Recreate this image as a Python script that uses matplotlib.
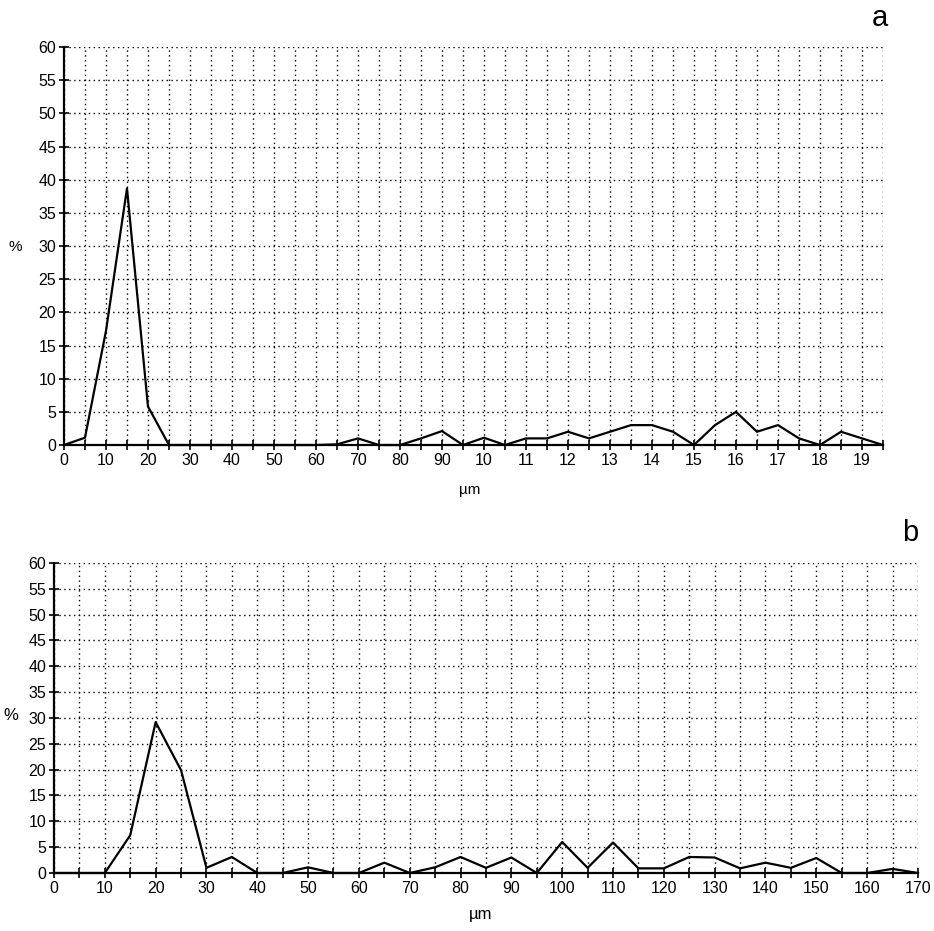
import numpy as np
import matplotlib
matplotlib.use("Agg")
import matplotlib.pyplot as plt

plt.rcParams['font.family'] = ['Liberation Sans', 'DejaVu Sans']

# panel a: size classes (um) and percentages
size_a = list(range(0, 200, 5))
pct_a = [0, 1.1, 17.2, 38.7, 5.8, 0, 0, 0, 0, 0, 0, 0, 0, 0.1,
         1, 0, 0, 1, 2.1, 0, 1.1, 0, 1, 1, 2, 1, 2, 3, 3, 2,
         0, 3, 5, 2, 3, 1, 0, 2, 1, 0]
xlabels_a = ["0", "10", "20", "30", "40", "50", "60", "70", "80", "90",
             "10", "11", "12", "13", "14", "15", "16", "17", "18", "19"]

# panel b
size_b = list(range(0, 175, 5))
pct_b = [0, 0, 0, 7.3, 29.2, 19.9, 1, 3.1, 0, 0, 1.1, 0, 0, 2, 0, 1.1,
         3.1, 1, 3, 0, 6, 1, 5.9, 0.9, 0.9, 3.1, 3, 0.9, 2, 1, 2.9,
         0, 0, 0.8, 0]
xlabels_b = [str(v) for v in range(0, 175, 10)]

yticks = list(range(0, 65, 5))

fig = plt.figure(figsize=(9.34, 9.31), dpi=100)
ax_a = fig.add_axes([0.0685, 0.522, 0.8769, 0.4275])
ax_b = fig.add_axes([0.0578, 0.0623, 0.925, 0.333])


def style(ax, xmax, labels):
    ax.set_xlim(0, xmax)
    ax.set_ylim(0, 60)
    ax.set_xticks(np.arange(0, xmax + 1, 10))
    ax.set_xticks(np.arange(0, xmax + 1, 5), minor=True)
    ax.set_xticklabels(labels, fontsize=11.5)
    ax.set_yticks(yticks)
    ax.set_yticklabels([str(v) for v in yticks], fontsize=11.5)
    ax.tick_params(axis="both", which="both", direction="inout",
                   length=7, width=1.2, pad=2)
    ax.grid(True, which="both", linestyle=(0, (1, 2.5)), color="black",
            linewidth=1.0)
    for s in ["top", "right"]:
        ax.spines[s].set_visible(False)
    for s in ["left", "bottom"]:
        ax.spines[s].set_linewidth(1.6)
    ax.set_axisbelow(True)


ax_a.plot(size_a, pct_a, color="black", lw=1.6, clip_on=False)
style(ax_a, 195, xlabels_a)
ax_b.plot(size_b, pct_b, color="black", lw=1.6, clip_on=False)
style(ax_b, 170, xlabels_b)

fig.text(880 / 934, 1 - 18 / 931, "a", fontsize=21, ha="center", va="center")
fig.text(910 / 934, 1 - 533 / 931, "b", fontsize=21, ha="center", va="center")
fig.text(15 / 934, 1 - 247 / 931, "%", fontsize=11, ha="center", va="center")
fig.text(11 / 934, 1 - 715 / 931, "%", fontsize=12, ha="center", va="center")
fig.text(470 / 934, 1 - 490 / 931, "\u00b5m", fontsize=11, ha="center", va="center")
fig.text(481 / 934, 1 - 915 / 931, "\u00b5m", fontsize=12, ha="center", va="center")

plt.savefig("out.png", dpi=100)
